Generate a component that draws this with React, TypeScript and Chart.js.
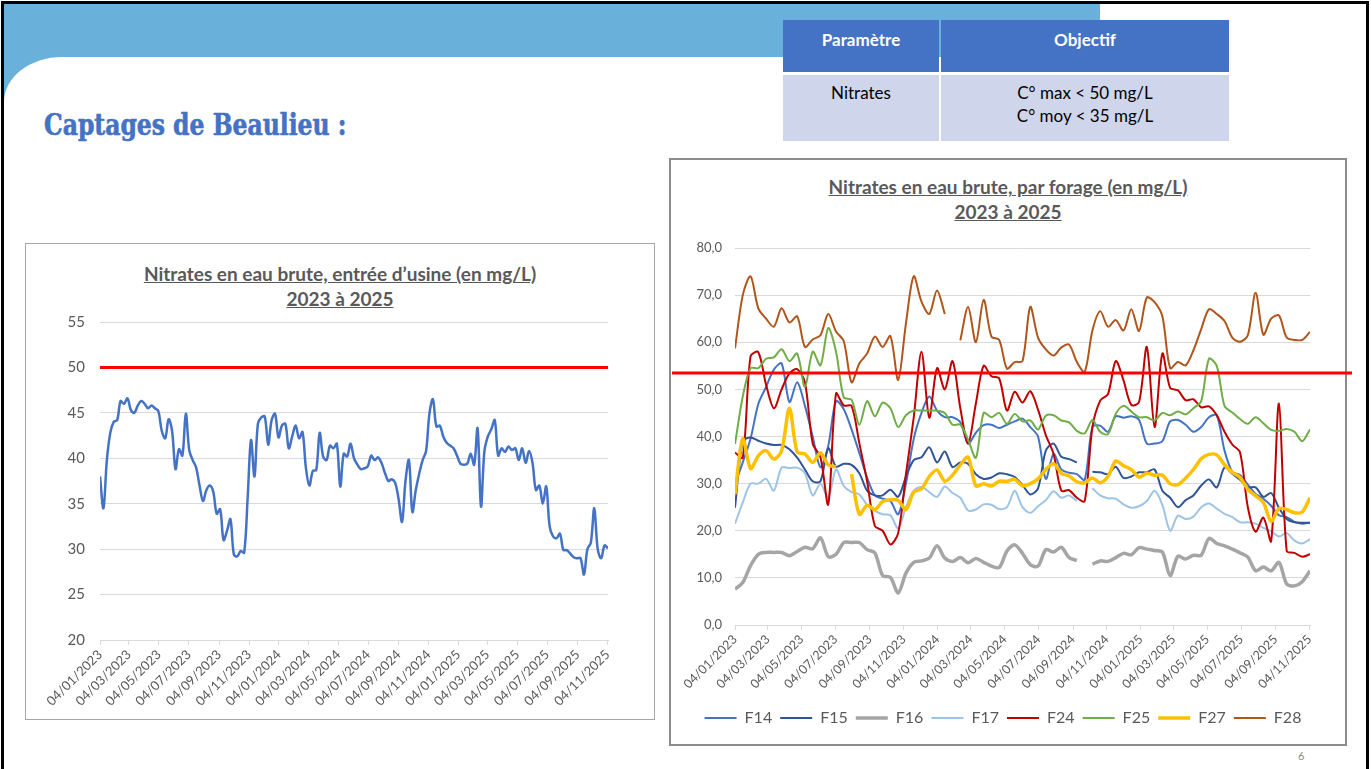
import React, { useEffect, useRef } from 'react';
import { Chart, registerables } from 'chart.js';

Chart.register(...registerables);

// ---------------- Data ----------------
const tickLabels = [
  '04/01/2023', '04/03/2023', '04/05/2023', '04/07/2023', '04/09/2023', '04/11/2023',
  '04/01/2024', '04/03/2024', '04/05/2024', '04/07/2024', '04/09/2024', '04/11/2024',
  '04/01/2025', '04/03/2025', '04/05/2025', '04/07/2025', '04/09/2025', '04/11/2025',
];

// sampling step (days) of each series, starting on the first tick date
const usineStepDays = 7;
const forageStepDays = 14;

const entreeUsine = [
  38.0, 34.5, 39.8, 42.8, 44.0, 44.2, 46.3, 46.0, 46.6, 45.3,
  45.0, 45.8, 46.3, 46.0, 45.5, 45.8, 45.5, 45.2, 43.0, 42.2,
  44.3, 43.0, 38.8, 41.0, 40.3, 44.9, 40.9, 39.8, 39.0, 37.0,
  35.3, 36.5, 37.0, 36.3, 33.9, 34.4, 31.0, 32.0, 33.3, 29.4,
  29.2, 29.8, 29.6, 35.5, 42.0, 38.0, 43.8, 44.5, 44.6, 41.5,
  44.2, 44.9, 42.3, 43.6, 43.8, 41.1, 42.4, 43.6, 42.2, 42.9,
  38.9, 37.0, 38.6, 38.7, 42.8, 40.2, 39.8, 41.4, 41.1, 41.6,
  36.9, 40.5, 40.2, 41.6, 40.0, 39.3, 38.8, 38.9, 39.1, 40.3,
  39.8, 40.1, 39.5, 38.4, 37.5, 37.7, 37.3, 35.5, 33.0, 37.5,
  39.8, 34.1, 36.5, 38.3, 39.8, 40.8, 45.0, 46.5, 43.5, 43.6,
  42.4, 41.7, 41.4, 41.1, 40.3, 39.4, 39.3, 39.4, 40.5, 39.3,
  43.3, 34.7, 40.8, 42.4, 43.2, 44.2, 40.3, 41.1, 40.7, 41.3,
  40.9, 41.1, 39.8, 41.1, 39.5, 40.8, 39.5, 36.5, 37.0, 35.0,
  36.9, 32.5, 31.4, 31.2, 31.7, 29.9, 29.9, 29.5, 29.1, 29.0,
  29.0, 27.2, 30.0, 30.7, 34.5, 30.0, 29.0, 30.4, 30.1,
];
const seuilUsine = 50;

const forageNames = ['F14', 'F15', 'F16', 'F17', 'F24', 'F25', 'F27', 'F28'];

const f14 = [
  29.9, 34.5, 39.5, 46.9, 50.5, 54.2, 55.5, 47.3, 51.5, 46.5,
  40, 33.5, 38, 47.5, 45.8, 41.5, 36.5, 31.3, 27.5, 26.8,
  26.3, 23.5, 30, 39.5, 45, 48.5, 45.5, 44.1, 44.1, 43,
  38.5, 40.8, 42.4, 42.5, 41.8, 42.5, 43.2, 43.8, 42, 40,
  31, 36.3, 33, 32.3, 32, 30.8, 42, 42.3, 41, 44.3,
  44, 44.3, 43.5, 38.5, 38.5, 39, 43.2, 43.5, 42.5, 41,
  42, 44.1, 44.5, 37, 32.5, 31.8, 29.8, 27.8, 26.8, 25.3,
  23.3, 22.9, 21.9, 21.5, 21.7,
];
const f15 = [
  24.9, 39, 39.8, 39.1, 38.5, 38.2, 38.2, 37.3, 35.5, 33,
  30.5, 30.5, 37.5, 33.6, 34.2, 34, 32.2, 28.5, 27.5, 27.5,
  28.7, 27.2, 31.5, 35, 35.6, 37.7, 34.5, 36.8, 33.5, 34.5,
  34.2, 32, 31, 31.3, 32.2, 32, 31.4, 29.7, 27.7, 29,
  37, 38.5, 35.7, 35.2, 34.5, null, 32.5, 32.4, 32, 33.6,
  31.2, 31.5, 32.4, 32.4, 33, 28.5, 27, 25, 26.5, 27.5,
  29.6, 30.9, 29.2, 33.4, 32.1, 30.8, 29.2, 29.2, 27.2, 28,
  24.9, 22.5, 21.8, 21.7, 21.7,
];
const f16 = [
  7.6, 9.0, 12.6, 15.0, 15.4, 15.4, 15.4, 14.7, 15.6, 16.5,
  16.2, 18.5, 14.5, 15.0, 17.5, 17.5, 17.5, 16, 15.3, 10.5,
  10.1, 6.8, 11, 13.3, 13.6, 14.2, 16.8, 14.2, 13.5, 14.3,
  13.2, 14.1, 13.3, 12.5, 12.2, 15.7, 17, 15.2, 12.8, 12.5,
  16, 15.5, 16.5, 14.3, 13.7, null, 12.9, 13.6, 13.5, 14.3,
  15.2, 14.9, 16.4, 16.1, 15.8, 15.5, 10.5, 14.6, 14.0, 14.8,
  14.8, 18.4, 17.3, 16.8, 16.1, 15.3, 14.4, 11.5, 12.3, 11.5,
  13.3, 8.7, 8.3, 9.2, 11.5,
];
const f17 = [
  21.5, 26, 30, 30, 31, 28.5, 33.4, 33.3, 33.4, 32.2,
  27.5, 30, 27, 33, 29.5, 28.2, 27.7, 25.5, 24.2, 23.5,
  23.3, 20.5, 25, 28.5, 29.3, 28.2, 27.2, 29.4, 28, 27,
  24.3, 24.5, 25.6, 25.5, 24.6, 25, 28.5, 25, 23.8, 25.2,
  26.5, 28.4, 27, 27.5, 26.3, null, 29, 27.5, 26.9, 26.8,
  25.6, 24.9, 25.2, 26.3, 28.5, 25.5, 20, 23.2, 22.5, 23,
  25, 25.8, 24.7, 23.6, 22.9, 21.8, 21.8, 21.5, 20.6, 19.9,
  18.8, 19.5, 17.9, 17.3, 18.2,
];
const f24 = [
  36.6, 35.5, 57, 57.9, 51, 46, 50, 53.4, 54.3, 51.5,
  38.5, 35.6, 25.6, 49.1, 46.6, 46.5, 38.6, 30.5, 21, 20,
  17.1, 19.5, 32, 44, 58, 44, 54.5, 50, 56, 46,
  38.5, 47, 55, 52.8, 52.3, 45.5, 49.5, 47.2, 49.6, 45.7,
  40.3, 36.3, 28.5, 28.6, 27, 26.3, 42, 47.6, 49, 56,
  51.9, 46.7, 47.3, 59, 42, 57.6, 50.3, 49.8, 47.7, 47.9,
  46.2, 46.4, 44.5, 41, 38.3, 36.6, 25, 19.8, 22.8, 17.8,
  47, 15.7, 15.3, 14.5, 15.0,
];
const f25 = [
  38.4, 48.5, 54.5, 54.5, 56.5, 56.8, 58.5, 56, 57.6, 50.5,
  58.0, 55.1, 63.0, 58.0, 48.3, 47.8, 42.5, 47.5, 44.3, 47.2,
  46.0, 42, 44.5, 45.5, 45.5, 45.5, 45.5, 45, 42.5, 42.5,
  39.3, 35.5, 45, 44.1, 45, 42.7, 44.8, 43.2, 43.4, 41.5,
  44.4, 44.5, 43.4, 43, 41.2, 40.7, 43.5, 41, 40.5, 44.8,
  46.5, 45.3, 44.1, 44.1, 43.4, 45, 44.5, 45.3, 44.7, 46,
  47.5, 56.5, 55, 46.5, 45.1, 43.7, 42.7, 44.1, 42.8, 41.4,
  41.2, 41.6, 41, 39, 41.5,
];
const f27 = [
  27.8, 39.5, 33.2, 35.9, 37, 35.2, 37, 46, 36.7, 36.3,
  34.5, 36.5, 34, 33.5, null, 32, 23.5, 25.4, 24.5, 26.2,
  26.6, 26.4, 24.5, 28.2, 28.9, 31.5, 32.9, 30.5, 31.8, 34,
  35.6, 29.5, 30, 29.5, 30.5, 30.5, 30.9, 29.5, 30, 31,
  33, 34.2, 32.2, 31.6, 30.4, 30.2, 31.2, 30.2, 31.5, 34.8,
  33.8, 33, 31.4, 32.2, 31.8, 31.8, 30, 29.8, 31.2, 33,
  35.3, 36.2, 36.1, 34, 32.4, 31.3, 28.8, 27.4, 26, 22,
  24.7, 24.5, 23.8, 24, 27,
];
const f28 = [
  58.7, 70, 74, 67.2, 65.0, 63.3, 67.2, 64.2, 65.5, 59,
  60.6, 61.5, 66, 62.3, 60.2, 51.5, 55.5, 57.6, 61.2, 59,
  61.3, 52, 64, 74, 68.6, 66, 71, 66, null, 60.4,
  67.5, 60, 69, 61.2, 60.5, 54.4, 55.8, 56, 67.5, 61,
  58.5, 57.2, 58.9, 59.5, 55.8, 53.7, 62.5, 66.6, 63.3, 64.7,
  62.5, 67, 62.4, 69.5, 68.5, 65.5, 54.5, 55.8, 55.1, 58.3,
  62.8, 67, 66, 64.5, 61, 60.1, 61.5, 70.5, 61.6, 65,
  65.7, 61, 60.5, 60.5, 62.2,
];
const seuilForage = 53.5;

// ---------------- Styles ----------------
const forageValues = [f14, f15, f16, f17, f24, f25, f27, f28];
const forageColors = ['#4472C4', '#2F5597', '#A5A5A5', '#9DC3E6', '#C00000', '#70AD47', '#FFC000', '#B0551C'];
const forageWidths = [2, 2, 3.5, 2, 2, 2, 3.5, 2];

const FONT = 'Lato, "Open Sans", "Noto Sans", sans-serif';
const TEXT = '#595959';
const GRID = '#D9D9D9';

// ---------------- Helpers ----------------
const parseDay = (s: string) => {
  const [d, m, y] = s.split('/').map(Number);
  return Date.UTC(y, m - 1, d) / 86400000;
};
const day0 = parseDay(tickLabels[0]);
const tickDays = tickLabels.map((s) => parseDay(s) - day0);
const labelByDay = new Map<number, string>(tickDays.map((d, i) => [d, tickLabels[i]]));
const toPoints = (vals: (number | null)[], step: number) => vals.map((v, i) => ({ x: i * step, y: v }));
const xMax = Math.max(
  tickDays[tickDays.length - 1],
  (entreeUsine.length - 1) * usineStepDays,
  (f14.length - 1) * forageStepDays,
);

const seuilPlugin = {
  id: 'seuil',
  afterDatasetsDraw(chart: any, _args: any, opts: any) {
    const { ctx, chartArea, scales } = chart;
    const y = scales.y.getPixelForValue(opts.value);
    ctx.save();
    ctx.strokeStyle = opts.color;
    ctx.lineWidth = opts.width;
    ctx.beginPath();
    ctx.moveTo(chartArea.left - (opts.extendLeft || 0), y);
    ctx.lineTo(chartArea.right + (opts.extendRight || 0), y);
    ctx.stroke();
    ctx.restore();
  },
};

function xAxis(fontSize: number, height: number) {
  return {
    type: 'linear',
    min: 0,
    max: xMax,
    afterBuildTicks: (scale: any) => {
      scale.ticks = tickDays.map((v) => ({ value: v }));
    },
    afterFit: (scale: any) => {
      scale.height = height;
      scale.paddingLeft = 0;
      scale.paddingRight = 0;
    },
    ticks: {
      autoSkip: false,
      minRotation: 45,
      maxRotation: 45,
      padding: 2,
      color: TEXT,
      font: { family: FONT, size: fontSize },
      callback: (v: number) => labelByDay.get(v) ?? '',
    },
    grid: { drawOnChartArea: false, drawTicks: true, tickLength: 5, color: GRID },
    border: { color: GRID, width: 1 },
  };
}

const buildUsine = () => ({
  type: 'line',
  data: {
    datasets: [
      {
        label: 'Entrée usine',
        data: toPoints(entreeUsine, usineStepDays),
        borderColor: '#4472C4',
        backgroundColor: '#4472C4',
        borderWidth: 2.5,
        pointRadius: 0,
        tension: 0.35,
        fill: false,
      },
    ],
  },
  options: {
    responsive: false,
    animation: false,
    devicePixelRatio: 1,
    layout: { padding: { top: 79, left: 0, right: 47, bottom: 0 } },
    plugins: {
      legend: { display: false },
      tooltip: { enabled: false },
      seuil: { value: seuilUsine, color: '#FF0000', width: 3 },
    },
    scales: {
      x: xAxis(13, 80),
      y: {
        min: 20,
        max: 55,
        ticks: { stepSize: 5, color: TEXT, font: { family: FONT, size: 15 }, padding: 15 },
        grid: { color: GRID, drawTicks: false },
        border: { display: false },
        afterFit: (s: any) => {
          s.width = 75;
        },
      },
    },
  },
  plugins: [seuilPlugin],
});

const buildForage = () => ({
  type: 'line',
  data: {
    datasets: forageNames.map((name, i) => ({
      label: name,
      data: toPoints(forageValues[i], forageStepDays),
      borderColor: forageColors[i],
      backgroundColor: forageColors[i],
      borderWidth: forageWidths[i],
      pointRadius: 0,
      tension: 0.3,
      fill: false,
      spanGaps: false,
      order: forageNames.length - 1 - i,
    })),
  },
  options: {
    responsive: false,
    animation: false,
    devicePixelRatio: 1,
    layout: { padding: { top: 90, left: 27, right: 49, bottom: 10 } },
    plugins: {
      tooltip: { enabled: false },
      legend: {
        position: 'bottom',
        labels: {
          usePointStyle: true,
          pointStyle: 'line',
          pointStyleWidth: 32,
          padding: 8,
          color: TEXT,
          font: { family: FONT, size: 16 },
          sort: (a: any, b: any) => a.datasetIndex - b.datasetIndex,
        },
      },
      seuil: { value: seuilForage, color: '#FF0000', width: 3, extendLeft: 63, extendRight: 42 },
    },
    scales: {
      x: xAxis(12.5, 77),
      y: {
        min: 0,
        max: 80,
        ticks: {
          stepSize: 10,
          color: TEXT,
          font: { family: FONT, size: 13 },
          padding: 13,
          callback: (v: number) => v.toFixed(1).replace('.', ','),
        },
        grid: { color: GRID, drawTicks: false },
        border: { display: false },
        afterFit: (s: any) => {
          s.width = 39;
        },
      },
    },
  },
  plugins: [seuilPlugin],
});

function ChartCanvas({ left, top, width, height, build }: any) {
  const ref = useRef<HTMLCanvasElement>(null);
  useEffect(() => {
    const chart = new Chart(ref.current as HTMLCanvasElement, build());
    return () => chart.destroy();
  }, []);
  return (
    <canvas
      ref={ref}
      width={width}
      height={height}
      style={{ position: 'absolute', left, top, width, height }}
    />
  );
}

const abs = (o: any) => ({ position: 'absolute', boxSizing: 'border-box', ...o });

export default function App() {
  const chartTitle = {
    color: TEXT,
    fontWeight: 700,
    fontSize: 19,
    lineHeight: '25px',
    textAlign: 'center',
    textDecoration: 'underline',
    fontFamily: FONT,
  };
  const cell = { fontSize: 17, lineHeight: '23px', textAlign: 'center' };
  return (
    <div style={{ position: 'relative', width: 1371, height: 769, overflow: 'hidden', background: '#fff', fontFamily: FONT }}>
      <style>{'html,body{margin:0;padding:0;background:#fff;}'}</style>
      {/* header band */}
      <div style={abs({ left: 4, top: 4, width: 1096, height: 120, background: '#69B1DB' })} />
      <div style={abs({ left: 4, top: 57, width: 1370, height: 720, background: '#fff', borderTopLeftRadius: '58px 45px' })} />
      {/* slide frame */}
      <div style={abs({ left: 1, top: 1, width: 1368, height: 800, border: '3px solid #000' })} />

      {/* slide title */}
      <div
        style={abs({
          left: 44,
          top: 108,
          fontFamily: '"DejaVu Serif Condensed", "DejaVu Serif", serif',
          fontWeight: 700,
          fontSize: 29,
          lineHeight: '34px',
          color: '#4472C4',
          whiteSpace: 'nowrap',
          transform: 'scaleX(0.9)',
          transformOrigin: 'left top',
          WebkitTextStroke: '0.6px #4472C4',
        })}
      >
        Captages de Beaulieu :
      </div>

      {/* objective table */}
      <div style={abs({ ...cell, left: 783, top: 20, width: 156, height: 52, background: '#4472C4', color: '#fff', fontWeight: 700, paddingTop: 8 })}>
        Paramètre
      </div>
      <div style={abs({ ...cell, left: 941, top: 20, width: 288, height: 52, background: '#4472C4', color: '#fff', fontWeight: 700, paddingTop: 8 })}>
        Objectif
      </div>
      <div style={abs({ ...cell, left: 783, top: 75, width: 156, height: 66, background: '#CFD5EA', color: '#000', paddingTop: 6 })}>
        Nitrates
      </div>
      <div style={abs({ ...cell, left: 941, top: 75, width: 288, height: 66, background: '#CFD5EA', color: '#000', paddingTop: 6 })}>
        C° max &lt; 50 mg/L
        <br />
        C° moy &lt; 35 mg/L
      </div>

      {/* left chart */}
      <div style={abs({ left: 25, top: 243, width: 630, height: 477, border: '1.5px solid #A6A6A6', background: '#fff' })} />
      <div style={abs({ ...chartTitle, left: 25, top: 261, width: 630 })}>
        Nitrates en eau brute, entrée d’usine (en mg/L)
        <br />
        2023 à 2025
      </div>
      <ChartCanvas left={25} top={243} width={630} height={477} build={buildUsine} />

      {/* right chart */}
      <div style={abs({ left: 669, top: 158, width: 678, height: 588, border: '2px solid #8C8C8C', background: '#fff' })} />
      <div style={abs({ ...chartTitle, left: 669, top: 174, width: 678 })}>
        Nitrates en eau brute, par forage (en mg/L)
        <br />
        2023 à 2025
      </div>
      <ChartCanvas left={669} top={158} width={690} height={588} build={buildForage} />

      <div style={abs({ left: 1298, top: 749, fontSize: 11, color: '#8C8C8C' })}>6</div>
    </div>
  );
}
